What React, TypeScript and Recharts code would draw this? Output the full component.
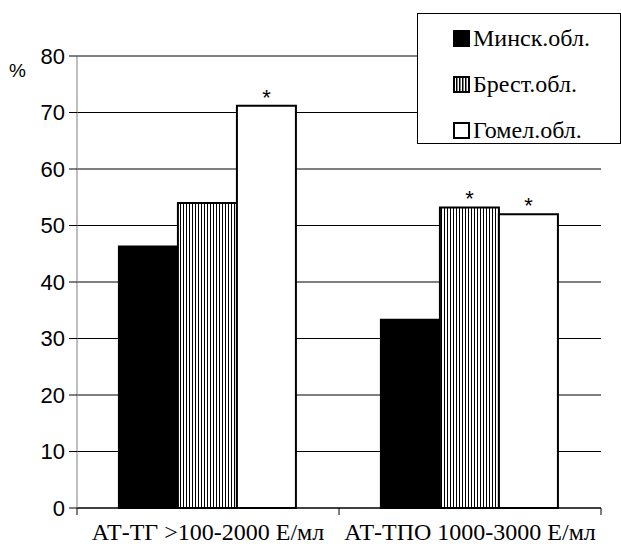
import React from "react";
import {
  BarChart,
  Bar,
  XAxis,
  YAxis,
  CartesianGrid,
  LabelList,
} from "recharts";

const categories = ["АТ-ТГ >100-2000 Е/мл", "АТ-ТПО 1000-3000 Е/мл"];
const minsk = [46.3, 33.3];
const brest = [54.0, 53.2];
const gomel = [71.2, 52.0];
// significance marks (*) per series
const brestStar = ["", "*"];
const gomelStar = ["*", "*"];
const yTicks = [0, 10, 20, 30, 40, 50, 60, 70, 80];

const data = categories.map((name, i) => ({
  name,
  minsk: minsk[i],
  brest: brest[i],
  gomel: gomel[i],
  brestStar: brestStar[i],
  gomelStar: gomelStar[i],
}));

const SERIF = "'Liberation Serif', 'Times New Roman', serif";
const SANS = "'Liberation Sans', Arial, sans-serif";

const X_TICK_SIZE = 7;
const X_TICK_MARGIN = 8;

const series = [
  { key: "minsk", name: "Минск.обл.", fill: "#000" },
  { key: "brest", name: "Брест.обл.", fill: "url(#stripesLegend)" },
  { key: "gomel", name: "Гомел.обл.", fill: "#fff" },
];

// category label plus tick marks on the category boundaries (Excel style)
const CategoryTick = (props: any) => {
  const { x, y, payload, index } = props;
  const half = payload?.offset ?? 0;
  const axisY = y - X_TICK_SIZE - X_TICK_MARGIN;
  return (
    <g>
      {index === 0 && (
        <line x1={x - half} x2={x - half} y1={axisY} y2={axisY + X_TICK_SIZE} stroke="#000" />
      )}
      <line x1={x + half} x2={x + half} y1={axisY} y2={axisY + X_TICK_SIZE} stroke="#000" />
      <text x={x} y={y} dy="0.71em" textAnchor="middle" fontFamily={SERIF} fontSize={24} fill="#000">
        {payload.value}
      </text>
    </g>
  );
};

const Star = (props: any) => {
  const { x, y, width, value } = props;
  if (!value) return null;
  return (
    <text x={x + width / 2} y={y - 1} textAnchor="middle" fontFamily={SANS} fontSize={22} fill="#000">
      {value}
    </text>
  );
};

const LegendBox = () => (
  <div
    style={{
      position: "absolute",
      left: 417,
      top: 13,
      border: "1px solid #000",
      background: "#fff",
      width: 204,
      height: 131,
      boxSizing: "border-box",
      paddingLeft: 35,
      paddingTop: 1,
      fontFamily: SERIF,
      fontSize: 24,
      lineHeight: "24px",
      color: "#000",
    }}
  >
    <svg width={0} height={0} style={{ position: "absolute" }}>
      <defs>
        <pattern id="stripesLegend" width={3} height={3} patternUnits="userSpaceOnUse">
          <rect width={3} height={3} fill="#fff" />
          <rect width={1.5} height={3} fill="#000" />
        </pattern>
      </defs>
    </svg>
    {series.map((s) => (
      <div key={s.key} style={{ display: "flex", alignItems: "center", height: 46 }}>
        <svg width={17} height={17} style={{ marginRight: 3 }}>
          <rect x={1} y={1} width={15} height={15} fill={s.fill} stroke="#000" strokeWidth={2} />
        </svg>
        <span>{s.name}</span>
      </div>
    ))}
  </div>
);

export default function App() {
  return (
    <div style={{ position: "absolute", left: 0, top: 0, width: 621, height: 544 }}>
      <BarChart
        width={621}
        height={544}
        data={data}
        margin={{ top: 56, right: 20, left: 0, bottom: 0 }}
        barCategoryGap="16%"
        barGap={0}
      >
        <defs>
          <pattern id="stripes" width={3} height={3} patternUnits="userSpaceOnUse">
            <rect width={3} height={3} fill="#fff" />
            <rect width={1} height={3} fill="#000" />
          </pattern>
        </defs>
        <CartesianGrid vertical={false} stroke="#000" strokeWidth={1} />
        <XAxis
          dataKey="name"
          height={36}
          stroke="#000"
          tickSize={X_TICK_SIZE}
          tickMargin={X_TICK_MARGIN}
          interval={0}
          tick={<CategoryTick />}
          tickLine={false}
        />
        <YAxis
          width={77}
          domain={[0, 80]}
          ticks={yTicks}
          stroke="#808080"
          tickSize={8}
          tickMargin={4}
          tickLine={{ stroke: "#000" }}
          tick={{ fill: "#000", fontFamily: SANS, fontSize: 22 }}
          label={{
            content: () => (
              <text x={9} y={77} fontFamily={SANS} fontSize={19} fill="#000">
                %
              </text>
            ),
          }}
        />
        <Bar dataKey="minsk" name="Минск.обл." fill="#000" stroke="#000" strokeWidth={2} isAnimationActive={false} />
        <Bar dataKey="brest" name="Брест.обл." fill="url(#stripes)" stroke="#000" strokeWidth={2} isAnimationActive={false}>
          <LabelList dataKey="brestStar" content={Star} />
        </Bar>
        <Bar dataKey="gomel" name="Гомел.обл." fill="#fff" stroke="#000" strokeWidth={2} isAnimationActive={false}>
          <LabelList dataKey="gomelStar" content={Star} />
        </Bar>
      </BarChart>
      <LegendBox />
    </div>
  );
}
